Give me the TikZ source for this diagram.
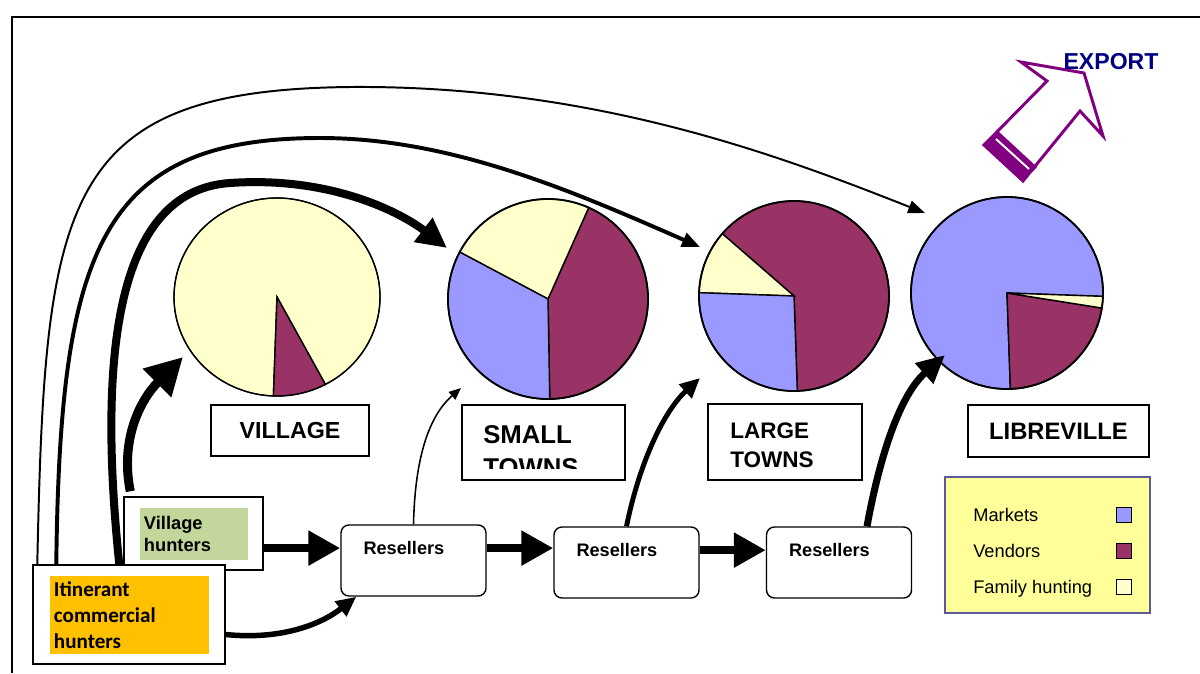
\documentclass[tikz,border=0pt]{standalone}
\usepackage{fontspec}
\setmainfont{Liberation Sans}
\newfontfamily\calibrifont{Carlito}
\usetikzlibrary{arrows.meta,shapes.geometric}

\definecolor{mktblue}{HTML}{9999FF}
\definecolor{vndplum}{HTML}{993366}
\definecolor{famcream}{HTML}{FFFFCC}
\definecolor{exppurple}{HTML}{800080}
\definecolor{expnavy}{HTML}{000080}
\definecolor{keyyellow}{HTML}{FFFF99}
\definecolor{keyedge}{HTML}{5B5B9B}
\definecolor{hntgreen}{HTML}{C3D69B}
\definecolor{hntorange}{HTML}{FFC000}

\newcommand{\pieslice}[6]{%
  \filldraw[fill=#6,draw=black,line width=1pt] (#1) -- ++(#2:#4 and #5)
    arc[start angle=#2,end angle=#3,x radius=#4,y radius=#5] -- cycle;}

\begin{document}
\begin{tikzpicture}[x=0.025cm,y=-0.025cm]
\tikzset{
  pie/.style={draw,line width=1.3pt,inner sep=0pt},
  place/.style={draw,line width=1pt,inner sep=0pt},
  reseller/.style={draw,fill=white,rounded corners=0.2cm,line width=1pt,
    minimum width=3.625cm,minimum height=1.775cm},
  hunters/.style={draw,fill=white,line width=1pt,inner sep=0pt},
  keybox/.style={draw,line width=1pt,minimum size=0.375cm,inner sep=0pt},
  flow/.style args={#1/#2/#3}{line width=#1,-{Triangle[length=#2,width=#3]}},
}
\useasboundingbox (0,0) rectangle (1200,673);
\draw[line width=1pt] (12,673) -- (12,17) -- (1200,17);

\coordinate (vc) at (277,297);
\coordinate (sc) at (548,299);
\coordinate (lc) at (794,296);
\coordinate (bc) at (1007,293);

\pieslice{vc}{62}{-268}{103}{99}{famcream}
\pieslice{vc}{92}{62}{103}{99}{vndplum}
\node[pie,ellipse,line width=0.8pt,minimum width=5.15cm,minimum height=4.95cm] (vpie) at (vc) {};

\pieslice{sc}{89}{-66}{100}{100}{vndplum}
\pieslice{sc}{-66}{-152}{100}{100}{famcream}
\pieslice{sc}{-152}{-271}{100}{100}{mktblue}
\node[pie,circle,minimum size=5cm] (spie) at (sc) {};

\pieslice{lc}{88}{-139}{95}{95}{vndplum}
\pieslice{lc}{-139}{-178}{95}{95}{famcream}
\pieslice{lc}{-178}{-272}{95}{95}{mktblue}
\node[pie,circle,minimum size=4.75cm] (lpie) at (lc) {};

\pieslice{bc}{2}{-272}{96}{96}{mktblue}
\pieslice{bc}{88}{9}{96}{96}{vndplum}
\pieslice{bc}{9}{2}{96}{96}{famcream}
\node[pie,circle,minimum size=4.8cm] (bpie) at (bc) {};

\node[place,minimum width=3.95cm,minimum height=1.275cm,
  font=\bfseries\fontsize{16.5}{19}\selectfont] (vlab) at (290,430.5) {VILLAGE};
\node[place,minimum width=4.075cm,minimum height=1.875cm] (slab) at (543.5,442.5) {};
\begin{scope}
  \clip (slab.north west) rectangle ([yshift=0.3cm]slab.south east);
  \node[anchor=base west,inner sep=0pt,font=\bfseries\fontsize{18.3}{22}\selectfont] (slab1) at (483,443.5) {SMALL};
  \node[anchor=base west,inner sep=0pt,font=\bfseries\fontsize{18.3}{22}\selectfont] (slab2) at (483,476.5) {TOWNS};
\end{scope}
\node[place,minimum width=3.85cm,minimum height=1.9cm] (llab) at (785,442) {};
\node[anchor=base west,inner sep=0pt,font=\bfseries\fontsize{16}{19}\selectfont] (llab1) at (730,438) {LARGE};
\node[anchor=base west,inner sep=0pt,font=\bfseries\fontsize{16}{19}\selectfont] (llab2) at (730,467) {TOWNS};
\node[place,minimum width=4.525cm,minimum height=1.3cm,
  font=\bfseries\fontsize{16.9}{20}\selectfont] (blab) at (1058.5,431) {LIBREVILLE};

\node[hunters,minimum width=3.475cm,minimum height=1.825cm] (vh) at (193.5,533.5) {};
\node[fill=hntgreen,minimum width=2.7cm,minimum height=1.3cm,text width=2.5cm,align=left,
  inner sep=0.1cm,font=\bfseries\fontsize{13}{15.6}\selectfont] (vht) at (194,534) {Village\\hunters};
\node[hunters,minimum width=4.8cm,minimum height=2.475cm] (itin) at (129,614.5) {};
\node[fill=hntorange,minimum width=3.975cm,minimum height=1.95cm,text width=3.775cm,align=left,
  inner sep=0.1cm,font=\calibrifont\bfseries\fontsize{15}{18.4}\selectfont] (itint) at (129.5,615) {Itinerant\\commercial\\hunters};

\foreach \n/\x/\y in {1/413.5/560.5,2/626.5/562.5,3/839/562.5}{
  \node[reseller] (r\n) at (\x,\y) {};
  \node[font=\bfseries\fontsize{12.9}{15}\selectfont,inner sep=0pt] (rt\n) at ([xshift=-0.24cm,yshift=0.31cm]r\n.center) {Resellers};
}

\node[draw=keyedge,fill=keyyellow,line width=0.8pt,minimum width=5.125cm,minimum height=3.4cm] (key) at (1047.5,545) {};
\foreach \name/\col/\y [count=\i] in {Markets/mktblue/521,Vendors/vndplum/557,Family hunting/famcream/593}{
  \node[anchor=base west,inner sep=0pt,font=\fontsize{13}{15}\selectfont] (keyt\i) at (973,\y) {\name};
  \node[keybox,fill=\col] (keyb\i) at (1124,\y-6) {};
}

\filldraw[draw=exppurple,fill=white,line width=2.1pt,line join=miter]
  (984,145) -- (1047,81) -- (1021,62) -- (1084,73) -- (1103,136) -- (1080,111) -- (1023,181) -- cycle;
\fill[exppurple] (984,145) -- (998,131) -- (1037,167) -- (1023,181) -- cycle;
\draw[white,line width=1.4pt] (996,139) -- (1029,169);
\node[font=\bfseries\fontsize{16.4}{19}\selectfont,text=expnavy,inner sep=0pt] (export) at (1111,62) {EXPORT};

\coordinate (tipv) at (183,357);
\coordinate (tips) at (461,388);
\coordinate (tipl) at (700,378);
\coordinate (tipb) at (945,355);
\coordinate (topa) at (925,213);
\coordinate (topb) at (700,247);
\coordinate (topc) at (447,248);

\draw[flow=1.4pt/0.42cm/0.32cm] ([xshift=0.125cm]itin.north west) .. controls (45,200) and (60,90) .. (350,87)
  .. controls (600,85) and (790,160) .. (topa);
\draw[flow=2.8pt/0.45cm/0.36cm] ([xshift=0.6cm]itin.north west) .. controls (60,250) and (100,138) .. (320,138)
  .. controls (450,138) and (570,190) .. (topb);
\draw[flow=5.7pt/0.75cm/0.72cm] ([xshift=2.175cm]itin.north west) .. controls (95,330) and (125,190) .. (230,183)
  .. controls (330,176) and (400,212) .. (topc);
\draw[flow=6.4pt/0.92cm/0.95cm] ([xshift=0.175cm,yshift=0.125cm]vh.north west) .. controls (120,440) and (140,400) .. (tipv);

\draw[flow=5.7pt/0.8cm/0.83cm] (vh.east |- rt1) -- (r1.west |- rt1);
\draw[flow=5.7pt/0.8cm/0.83cm] (r1.east |- rt1) -- (r2.west |- rt1);
\draw[flow=5.7pt/0.8cm/0.83cm] (r2.east |- rt2) -- (r3.west |- rt2);
\draw[flow=3.9pt/0.5cm/0.45cm] ([yshift=-0.5cm]itin.east) .. controls (280,640) and (320,625) .. ([xshift=0.4cm]r1.south west);

\draw[flow=1.1pt/0.3cm/0.25cm] (r1.north) .. controls (415,455) and (430,415) .. (tips);
\draw[flow=3.5pt/0.5cm/0.45cm] (r2.north) .. controls (640,460) and (665,410) .. (tipl);
\draw[flow=5pt/0.7cm/0.65cm] ([xshift=0.7cm]r3.north) .. controls (880,455) and (900,395) .. (tipb);
\end{tikzpicture}
\end{document}
